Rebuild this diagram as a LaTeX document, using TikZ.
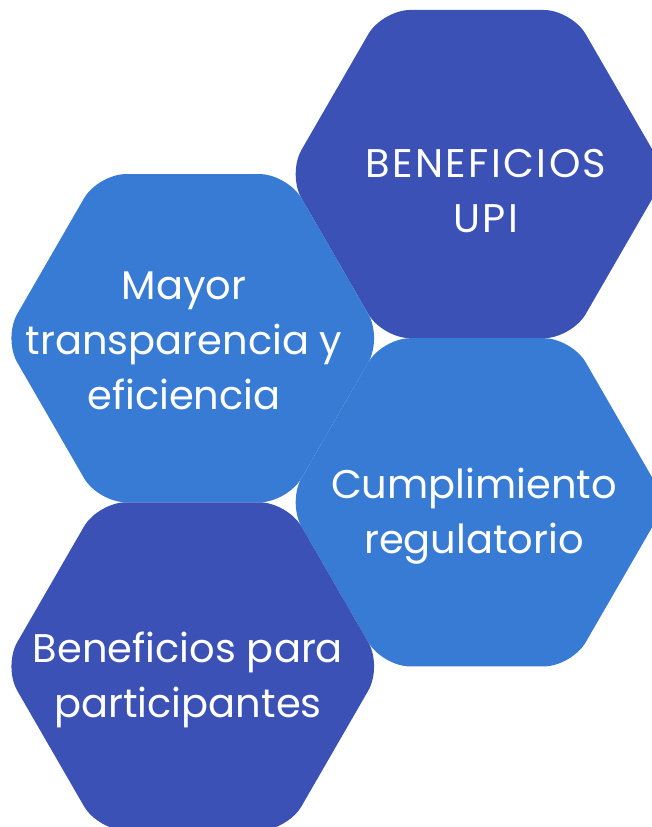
\documentclass[tikz,border=0pt]{standalone}
\usepackage{fontspec}
\setmainfont{Poppins}
\definecolor{hexdark}{HTML}{3B51B5}
\definecolor{hexlight}{HTML}{387BD5}
\newcommand\hexcell[2]{%
  \fill[#2,rounded corners=28pt]
    ([shift={(#1)}]90:164.1) -- ([shift={(#1)}]60:189.5) -- ([shift={(#1)}]0:189.5)
    -- ([shift={(#1)}]-60:189.5) -- ([shift={(#1)}]-120:189.5) -- ([shift={(#1)}]180:189.5)
    -- ([shift={(#1)}]120:189.5) -- cycle;}
\begin{document}
\begin{tikzpicture}[x=1pt,y=-1pt,
  lbl/.style={text=white,align=center,font=\fontsize{40}{55}\selectfont,inner sep=0pt}]
\useasboundingbox (0,0) rectangle (652,827);
\clip (0,0) rectangle (652,827);
\coordinate (c1) at (477,174.1);
\coordinate (c2) at (192.75,338.2);
\coordinate (c3) at (477,502.3);
\coordinate (c4) at (192.75,666.4);
\hexcell{c1}{hexdark}
\hexcell{c2}{hexlight}
\hexcell{c3}{hexlight}
\hexcell{c4}{hexdark}
\node[lbl,font=\fontsize{40}{55}\selectfont\addfontfeatures{LetterSpace=6}] (t1) at (486,191.5) {BENEFICIOS\\UPI};
\node[lbl] (t2) at (184,341) {Mayor\\transparencia y\\eficiencia};
\node[lbl] (t3) at (474,516.5) {Cumplimiento\\regulatorio};
\node[lbl] (t4) at (188,680) {Beneficios para\\participantes};
\end{tikzpicture}
\end{document}
